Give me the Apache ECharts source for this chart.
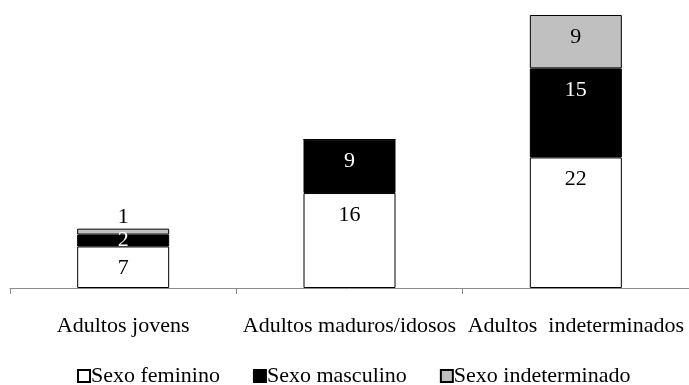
<!DOCTYPE html>
<html>
<head>
<meta charset="utf-8">
<script src="https://cdn.jsdelivr.net/npm/echarts@6/dist/echarts.min.js"></script>
<style>
  html, body { margin: 0; padding: 0; background: #fff; }
  #chart { width: 689px; height: 385px; }
</style>
</head>
<body>
<div id="chart"></div>
<script>
// Age groups on the x axis
const categories = ['Adultos jovens', 'Adultos maduros/idosos', 'Adultos  indeterminados'];

// Counts per sex within each age group
const feminino = [7, 16, 22];
const masculino = [2, 9, 15];
const indeterminado = [1, 0, 9];

const seriesNames = ['Sexo feminino', 'Sexo masculino', 'Sexo indeterminado'];

const FONT = '"Liberation Serif", "Times New Roman", serif';

// Build data items; tiny segments get their label centred or placed above the bar
function items(values, smallPos) {
  return values.map(function (v, i) {
    if (v === 0) return { value: v, label: { show: false } };
    const pos = smallPos && smallPos[i];
    if (pos) return { value: v, label: { position: pos, distance: 0 } };
    return v;
  });
}

const baseLabel = {
  show: true,
  position: 'insideTop',
  distance: 11,
  fontFamily: FONT,
  fontSize: 22
};

const chart = echarts.init(document.getElementById('chart'));
chart.setOption({
  animation: false,
  grid: { left: 10, right: -5, top: 15, bottom: 97, containLabel: false },
  legend: {
    data: seriesNames,
    bottom: -7,
    left: 72,
    icon: 'rect',
    itemWidth: 12,
    itemHeight: 12,
    itemGap: 33,
    textStyle: { fontFamily: FONT, fontSize: 22, color: '#000', padding: [0, 0, 0, -4] }
  },
  xAxis: {
    type: 'category',
    data: categories,
    axisLine: { lineStyle: { color: '#8c8c8c', width: 1 } },
    axisTick: { show: true, length: 6, lineStyle: { color: '#8c8c8c' } },
    axisLabel: { fontFamily: FONT, fontSize: 22, color: '#000', margin: 27, interval: 0 }
  },
  yAxis: {
    type: 'value',
    min: 0,
    max: 46,
    show: false,
    splitLine: { show: false }
  },
  series: [
    {
      name: seriesNames[0],
      type: 'bar',
      stack: 'total',
      barWidth: 92,
      data: items(feminino, null),
      itemStyle: { color: '#ffffff', borderColor: '#000', borderWidth: 1 },
      label: Object.assign({}, baseLabel, { color: '#000' })
    },
    {
      name: seriesNames[1],
      type: 'bar',
      stack: 'total',
      data: items(masculino, ['inside', null, null]),
      itemStyle: { color: '#000000', borderColor: '#000', borderWidth: 1 },
      label: Object.assign({}, baseLabel, { color: '#fff' })
    },
    {
      name: seriesNames[2],
      type: 'bar',
      stack: 'total',
      data: items(indeterminado, ['top', null, null]),
      itemStyle: { color: '#c0c0c0', borderColor: '#000', borderWidth: 1 },
      label: Object.assign({}, baseLabel, { color: '#000' })
    }
  ]
});
</script>
</body>
</html>
